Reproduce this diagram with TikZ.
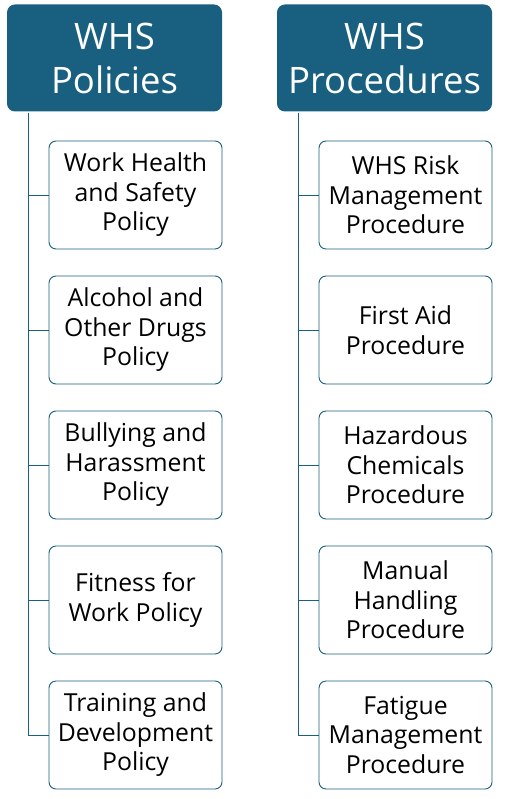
\documentclass[tikz,border=0pt]{standalone}
\usepackage{fontspec}
\setmainfont{Open Sans}
\definecolor{whsblue}{HTML}{185F80}
\tikzset{
  header/.style={rectangle,rounded corners=8pt,fill=whsblue,text=white,
    minimum width=215pt,minimum height=107pt,inner sep=0pt,align=center,
    font=\fontsize{36.5}{44}\selectfont},
  item/.style={rectangle,rounded corners=7pt,draw=whsblue,line width=0.9pt,fill=white,
    minimum width=173pt,minimum height=108pt,inner sep=0pt,align=center,
    font=\fontsize{24.8}{29.5}\selectfont},
  link/.style={draw=whsblue,line width=0.9pt}
}
\begin{document}
\begin{tikzpicture}[x=1pt,y=-1pt]
      \useasboundingbox (0,0) rectangle (508,799);

      % headers
      \node[header] (pol)  at (114.5,58) {WHS\\Policies};
      \node[header] (proc) at (384.5,58) {WHS\\Procedures};

      \coordinate (polstem)  at (28,113);
      \coordinate (procstem) at (298,113);

      \begin{scope}[every node/.style={item}]
        \node (pol1)  at (135.5,195) {Work Health\\and Safety\\Policy};
        \node (pol2)  at (135.5,330) {Alcohol and\\Other Drugs\\Policy};
        \node (pol3)  at (135.5,465) {Bullying and\\Harassment\\Policy};
        \node (pol4)  at (135.5,600) {Fitness for\\Work Policy};
        \node (pol5)  at (135.5,735) {Training and\\Development\\Policy};

        \node (proc1) at (405.5,195) {WHS Risk\\Management\\Procedure};
        \node (proc2) at (405.5,330) {First Aid\\Procedure};
        \node (proc3) at (405.5,465) {Hazardous\\Chemicals\\Procedure};
        \node (proc4) at (405.5,600) {Manual\\Handling\\Procedure};
        \node (proc5) at (405.5,735) {Fatigue\\Management\\Procedure};
      \end{scope}

      \foreach \i in {1,...,5} {
        \path[link] (polstem)  |- (pol\i.west);
        \path[link] (procstem) |- (proc\i.west);
      }

    \end{tikzpicture}
\end{document}
